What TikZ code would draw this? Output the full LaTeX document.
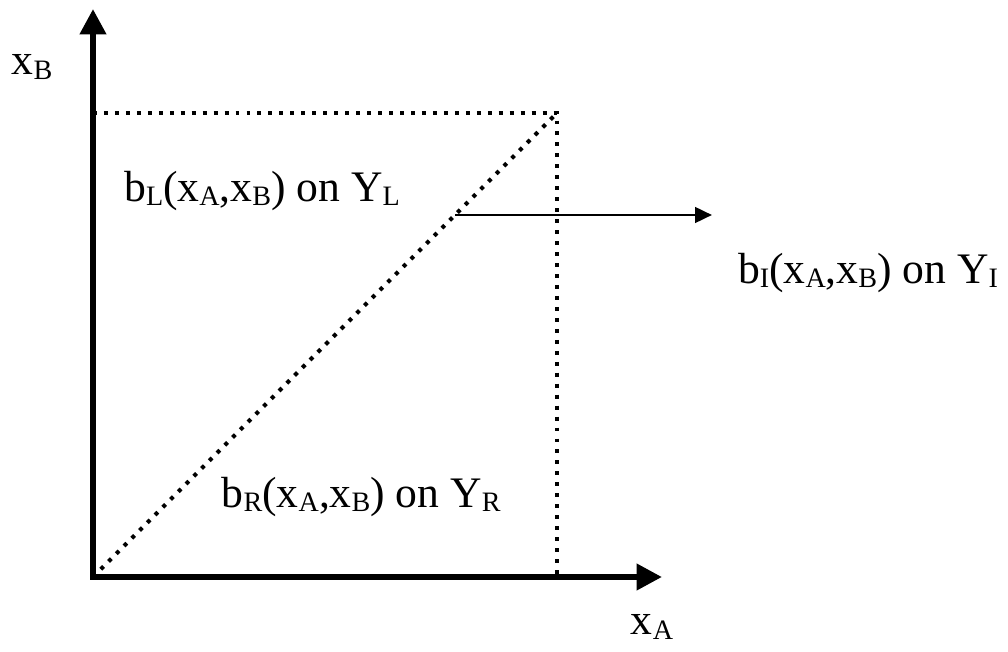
\documentclass[tikz,border=0pt]{standalone}
\usepackage{fontspec}
\setmainfont{Liberation Serif}
\usetikzlibrary{arrows.meta}
\newcommand{\sub}[1]{\raisebox{-0.1em}{\fontsize{20}{20}\selectfont #1}}
\begin{document}
\begin{tikzpicture}
	\tikzset{axis_line/.style={line width=4.2pt, -{Triangle[length=18pt,width=18pt]}}}
	\tikzset{dot_line/.style={line width=2.8pt, dash pattern=on 2.8pt off 5pt}}
	\tikzset{lbl/.style={font=\fontsize{31}{38}\selectfont, inner sep=0pt}}
	\useasboundingbox (0,0) rectangle (25.2,16.275);
	\coordinate (O) at (2.325,1.85);
	\coordinate (ytop) at (2.325,16.05);
	\coordinate (xend) at (16.55,1.85);
	\coordinate (TL) at (2.325,13.45);
	\coordinate (C) at (13.925,13.45);
	\coordinate (BR) at (13.925,1.85);
	\coordinate (split) at (11.375,10.9);
	\coordinate (tip) at (17.8,10.9);
	\draw[dot_line] (TL) -- (C) -- (BR);
	\draw[dot_line] (O) -- (C);
	\draw[line width=2pt, -{Triangle[length=12pt,width=11pt]}] (split) -- (tip);
	\draw[axis_line] (O) -- (ytop);
	\draw[axis_line] ([xshift=-2.1pt]O) -- (xend);
	\node[lbl] (xB) at (0.8,14.6) {x\sub{B}};
	\node[lbl] (bL) at (6.55,11.5) {b\sub{L}(x\sub{A},x\sub{B}) on Y\sub{L}};
	\node[lbl] (bI) at (21.7,9.45) {b\sub{I}(x\sub{A},x\sub{B}) on Y\sub{I}};
	\node[lbl] (bR) at (9.03,3.85) {b\sub{R}(x\sub{A},x\sub{B}) on Y\sub{R}};
	\node[lbl] (xA) at (16.3,0.6) {x\sub{A}};
\end{tikzpicture}
\end{document}
